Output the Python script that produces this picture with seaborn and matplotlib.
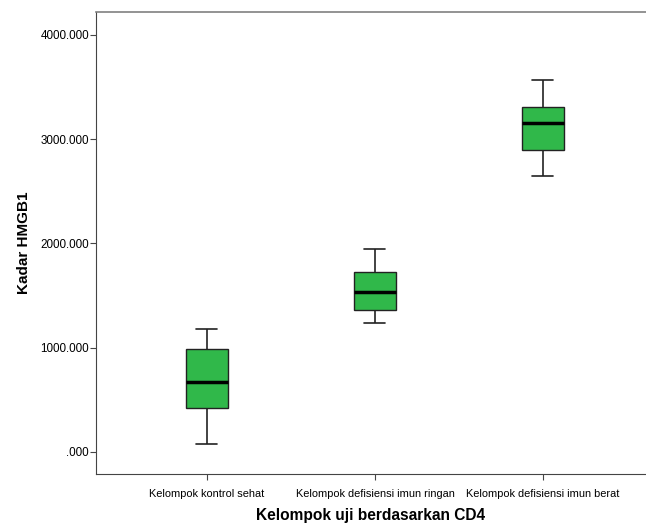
import numpy as np
import pandas as pd
import matplotlib
matplotlib.use("Agg")
import matplotlib.pyplot as plt
import seaborn as sns

# ---- data (five-number summary per group) ----
groups = ["Kelompok kontrol sehat",
          "Kelompok defisiensi imun ringan",
          "Kelompok defisiensi imun berat"]
minimum = [77, 1240, 2649]
q1 = [422, 1359, 2896]
median = [668, 1531, 3157]
q3 = [985, 1729, 3311]
maximum = [1182, 1946, 3567]

# five values per group give exactly these quartiles with linear interpolation
rows = []
for i, g in enumerate(groups):
    for v in (minimum[i], q1[i], median[i], q3[i], maximum[i]):
        rows.append({"grup": g, "kadar": v})
df = pd.DataFrame(rows)

sns.set_theme(style="white")
plt.rcParams["font.family"] = ["Liberation Sans", "DejaVu Sans"]
plt.rcParams["text.color"] = "black"
plt.rcParams["axes.labelcolor"] = "black"
plt.rcParams["xtick.color"] = "black"
plt.rcParams["ytick.color"] = "black"

fig = plt.figure(figsize=(6.46, 5.30), dpi=100)
ax = fig.add_axes([96 / 646, 1 - 474 / 530, (646 - 96) / 646, (474 - 12) / 530])

sns.boxplot(data=df, x="grup", y="kadar", order=groups, ax=ax,
            color="#30b84a", saturation=1, width=0.25, whis=np.inf,
            linewidth=1.0, linecolor="#222222",
            medianprops=dict(color="black", linewidth=2.5),
            capprops=dict(color="#222222", linewidth=1.2),
            whiskerprops=dict(color="#222222", linewidth=1.2))

ax.set_xlim(-0.66, 2.613)
ax.set_ylim(-211, 4218)
ax.set_yticks([0, 1000, 2000, 3000, 4000])
ax.set_yticklabels([".000", "1000.000", "2000.000", "3000.000", "4000.000"])
ax.tick_params(axis="both", which="both", direction="out", length=4,
               width=0.8, color="#444444", labelcolor="black",
               left=True, bottom=True, pad=1)
ax.tick_params(axis="y", labelsize=8.4)
ax.tick_params(axis="x", labelsize=7.9, pad=7)
for s in ax.spines.values():
    s.set_color("#444444")
    s.set_linewidth(0.8)
ax.spines["top"].set_color("#808080")
ax.spines["top"].set_linewidth(1.2)
ax.spines["right"].set_visible(False)

ax.set_xlabel("Kelompok uji berdasarkan CD4", fontsize=11.2, fontweight="bold", labelpad=6)
ax.set_ylabel("Kadar HMGB1", fontsize=11, fontweight="bold", labelpad=7)

fig.savefig("out.png", dpi=100)
